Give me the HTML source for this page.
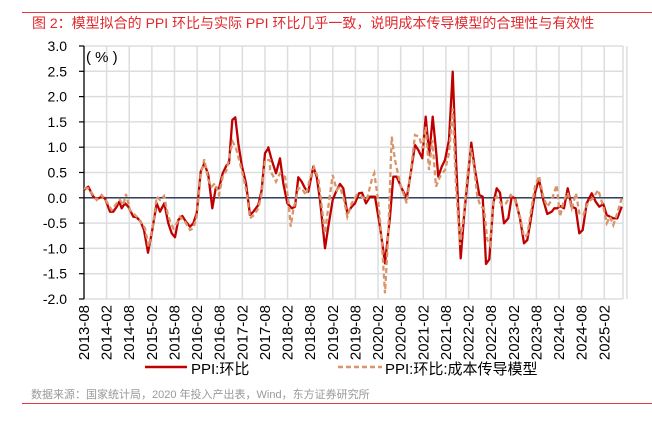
<!DOCTYPE html>
<html><head><meta charset="utf-8"><style>
body{margin:0;background:#fff;width:652px;height:416px;overflow:hidden;font-family:"Liberation Sans","Noto Sans CJK SC",sans-serif}
</style></head><body>
<svg id="s" width="652" height="416" xmlns="http://www.w3.org/2000/svg" font-family="Liberation Sans, Noto Sans CJK SC, sans-serif">
<line x1="22" y1="12.5" x2="652" y2="12.5" stroke="#e8383d" stroke-width="1"/>
<text x="32" y="28" font-size="14" fill="#e0282e">图 2：模型拟合的 PPI 环比与实际 PPI 环比几乎一致，说明成本传导模型的合理性与有效性</text>
<g id="grid"></g>
<g id="yl" font-size="14" fill="#000" text-anchor="end"></g>
<g id="xl" font-size="15" fill="#000"></g>
<line x1="84" y1="197.8" x2="623" y2="197.8" stroke="#1f2d4d" stroke-width="1.3"/>
<line x1="84" y1="46" x2="84" y2="299" stroke="#000" stroke-width="1.3"/>
<text x="86" y="62" font-size="15">( % )</text>
<polyline id="red" fill="none" stroke="#c00000" stroke-width="2.3" stroke-linejoin="round"/>
<polyline id="org" fill="none" stroke="#d9956a" stroke-width="2.3" stroke-dasharray="5,3"/>
<line x1="145" y1="367" x2="187" y2="367" stroke="#c00000" stroke-width="2.5"/>
<text x="191" y="374" font-size="15">PPI:环比</text>
<line x1="338" y1="367" x2="382" y2="367" stroke="#d9956a" stroke-width="2.5" stroke-dasharray="5,3"/>
<text x="385" y="374" font-size="15">PPI:环比:成本传导模型</text>
<text x="31" y="398" font-size="11" fill="#999">数据来源：国家统计局，2020 年投入产出表，Wind，东方证券研究所</text>
<line x1="22" y1="403.5" x2="652" y2="403.5" stroke="#e8383d" stroke-width="1"/>
</svg>
<script>
var NS="http://www.w3.org/2000/svg";
function el(t,a,p,txt){var e=document.createElementNS(NS,t);for(var k in a)e.setAttribute(k,a[k]);if(txt)e.textContent=txt;document.getElementById(p).appendChild(e);return e;}
var T=46,ppu=50.6,x0=84,pm=3.77;
for(var i=0;i<=10;i++){var v=3-i*0.5,y=T+i*ppu/2;
 if(i<10)el('line',{x1:84,x2:623,y1:y,y2:y,stroke:'#dcdde0','stroke-width':1.5},'grid');
 el('line',{x1:79,x2:84,y1:y,y2:y,stroke:'#000','stroke-width':1.2},'grid');
 el('text',{x:67,y:y+5},'yl',v.toFixed(1));}
el('line',{x1:84,x2:623,y1:299,y2:299,stroke:'#dcdde0','stroke-width':1.5},'grid');
for(var m=0;m<=24;m++){var x=x0+m*6*pm;
 if(m>0)el('line',{x1:x,x2:x,y1:46,y2:299,stroke:'#dcdde0','stroke-width':1.5},'grid');
 if(m<24){var yr=2013+Math.floor((7+m*6)/12),mo=((7+m*6)%12)+1;
 var lab=yr+'-'+(mo<10?'0':'')+mo;
 el('text',{x:0,y:0,transform:'translate('+(x+5)+',305) rotate(-90)','text-anchor':'end'},'xl',lab);}}
el('line',{x1:623,x2:623,y1:46,y2:299,stroke:'#dcdde0','stroke-width':1.5},'grid');
function pts(segs){var out=[];segs.forEach(function(s){var ox=s[0],oy=60,a=s[1];for(var i=0;i<a.length;i+=2)out.push((ox+a[i]/3).toFixed(1)+','+(oy+a[i+1]/3).toFixed(1));});return out.join(' ');}
var R=[[70,[42,390,55,380,70,410,80,418,95,410,105,415,120,455,130,455,140,440,148,425,155,445,165,430,175,440,190,470,200,472,212,485,222,510,234,578,245,520,260,430,270,455,283,430,295,490,305,520,315,532,325,480,337,468,348,485,360,500,370,490,380,460,392,335,403,310,415,345,427,445,437,385,447,385,458,340,470,315,477,310,487,180,496,172,505,250,515,315,528,370,540,465,550,455,565,435,575,390,585,280,595,265]],
[260,[25,262,35,300,48,340,60,295,70,370,82,430,95,445,105,440,115,352,125,365,135,385,145,395,160,320,170,350,180,420,195,565,205,500,218,420,228,395,240,372,250,385,262,460,275,440,285,430,297,400,306,398,318,430,330,410,345,410,360,500,375,610,390,470,400,350,410,350,425,385,440,415,452,340,465,255,475,270,487,295,497,170,508,285,518,170,528,270,535,350,545,320,555,300,567,240,578,35]],
[440,[48,300,62,595,72,470,82,370,94,248,105,330,118,405,128,410,138,612,148,598,160,430,170,385,180,398,192,490,205,475,215,410,225,415,240,475,252,550,262,540,272,480,285,398,297,358,310,420,322,462,335,455,343,445,352,445,360,438,372,445,383,385,395,440,407,445,418,520,428,510,440,430,455,400,467,425,478,440,490,432,500,465,510,470,520,475,532,475,545,440]]];
var O=[[70,[42,385,55,385,70,405,80,420,95,405,110,425,125,450,140,430,150,420,160,435,168,402,180,450,200,470,215,490,225,505,236,560,250,490,260,410,270,420,282,408,295,470,310,505,320,490,330,470,345,485,360,510,370,505,380,470,392,345,403,298,415,360,425,380,435,370,447,405,458,350,470,330,480,280,488,245,498,265,510,310,520,350,530,400,540,475,552,465,565,445,575,400,585,300,600,300]],
[260,[30,330,48,365,60,340,75,350,85,420,92,500,100,450,115,385,125,385,138,405,150,355,162,322,175,355,185,440,195,520,205,440,218,345,230,390,240,380,252,420,262,470,275,430,290,405,305,410,320,420,335,360,343,340,355,425,365,540,375,700,385,520,395,230,405,300,420,370,430,400,440,430,450,355,465,225,477,230,488,265,497,200,507,330,517,240,528,380,540,350,555,330,567,280,578,145]],
[440,[48,380,60,555,72,460,82,350,92,265,102,320,112,410,122,440,132,445,142,540,150,555,160,420,170,410,185,435,198,430,212,405,225,420,240,470,252,530,262,525,275,440,285,380,297,348,310,410,322,440,335,420,350,375,360,470,372,420,383,398,395,445,408,400,418,460,430,465,445,425,458,415,475,390,490,440,500,490,510,470,520,495,530,465,545,415]]];
document.getElementById('red').setAttribute('points',pts(R));
document.getElementById('org').setAttribute('points',pts(O));
</script>
</body></html>
